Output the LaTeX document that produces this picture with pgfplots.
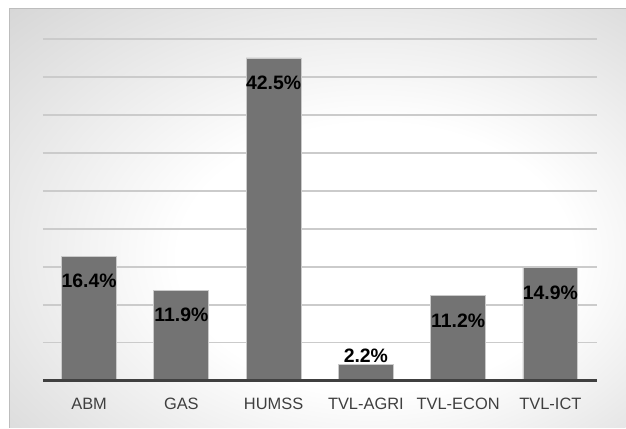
\documentclass[border=0pt]{standalone}
\usepackage{pgfplots}
\pgfplotsset{compat=1.18}
\usepackage{fontspec}
\setmainfont{Liberation Sans}

\definecolor{barfill}{HTML}{737373}
\definecolor{baredge}{HTML}{CACACA}
\definecolor{gridc}{HTML}{CBCBCB}
\definecolor{axisc}{HTML}{404040}
\definecolor{tickc}{HTML}{3F3F3F}
\definecolor{framec}{HTML}{BDBDBD}

% soft radial backdrop: white in the middle, grey towards the edges
\pgfdeclareradialshading{chartbg}{\pgfpoint{6bp}{-6bp}}{%
  color(0bp)=(white); color(16bp)=(white);
  color(50bp)=(black!23); color(72bp)=(black!30)}

\begin{document}
\begin{tikzpicture}
  \fill[white] (-43bp,-47bp) rectangle (583bp,381bp);
  \shade[shading=chartbg] (-33bp,-47bp) rectangle (583bp,372bp);
  \draw[framec, line width=1bp] (-33bp,-47bp) -- (-33bp,372bp) -- (583bp,372bp);
  \begin{axis}[
    at={(0,0)}, anchor=south west,
    scale only axis, width=554bp, height=342bp,
    xmin=-0.5, xmax=5.5, ymin=0, ymax=45,
    ybar, bar width=55bp,
    xtick={0,...,5},
    xticklabels={ABM,GAS,HUMSS,TVL-AGRI,TVL-ECON,TVL-ICT},
    ytick={5,10,...,45}, yticklabels={},
    ymajorgrids, grid style={gridc, line width=1.5bp},
    axis line style={draw=none}, major tick length=0pt,
    xticklabel style={font=\fontsize{16.5}{19}\selectfont, text=tickc, yshift=-14bp},
    /pgf/number format/assume math mode=true,
    clip=false,
  ]
    % bars tall enough to hold their value inside the top
    \addplot[fill=barfill, draw=baredge, line width=0.8bp, bar shift=0pt,
      nodes near coords={\pgfmathprintnumber[fixed, precision=1, fixed zerofill]{\pgfplotspointmeta}\%},
      nodes near coords style={anchor=center, yshift=-25bp, text=black,
        font=\bfseries\fontsize{19.5}{22}\selectfont}]
      coordinates {(0,16.4) (1,11.9) (2,42.5) (4,11.2) (5,14.9)};
    % short bar: value sits above it
    \addplot[fill=barfill, draw=baredge, line width=0.8bp, bar shift=0pt,
      nodes near coords={\pgfmathprintnumber[fixed, precision=1, fixed zerofill]{\pgfplotspointmeta}\%},
      nodes near coords style={anchor=center, yshift=8bp, text=black,
        font=\bfseries\fontsize{19.5}{22}\selectfont}]
      coordinates {(3,2.2)};
    \draw[axisc, line width=3bp] (rel axis cs:0,0) -- (rel axis cs:1,0);
  \end{axis}
\end{tikzpicture}
\end{document}
